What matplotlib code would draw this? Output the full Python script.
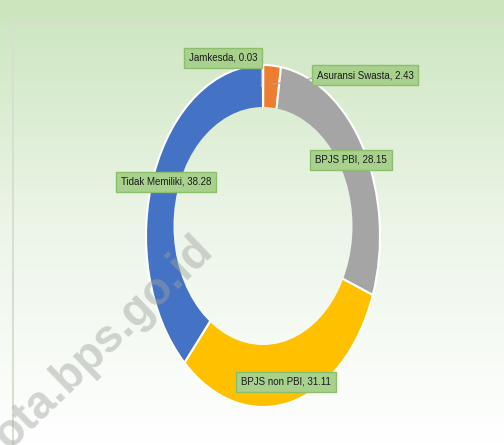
import numpy as np
import matplotlib
matplotlib.use('Agg')
import matplotlib.pyplot as plt
from matplotlib.patches import Ellipse, Rectangle

# data (clockwise from 12 o'clock)
kategori = ['Jamkesda', 'Asuransi Swasta', 'BPJS PBI', 'BPJS non PBI', 'Tidak Memiliki']
persen = [0.03, 2.43, 28.15, 31.11, 38.28]
warna = ['#5B9BD5', '#ED7D31', '#A5A5A5', '#FFC000', '#4472C4']

W, H = 504, 445
# label box centres in pixels (layout only)
label_pos = [(223, 58), (365, 75), (351, 160), (286, 382), (166, 182)]
# leader lines, pixels
leaders = [[(257, 58), (261, 58), (261, 86)],
           [(319, 76), (306, 80), (272, 84)]]

# donut geometry in pixels
cx, cy, rx, ry = 263, 236, 117, 171
hole_top, hole_bot, hole_rx = 107, 345, 89.5

fig = plt.figure(figsize=(W / 100, H / 100), dpi=100)

# background gradient
yy = np.linspace(0, 1, H)
stops_y = [0.0, 0.5, 1.0]
stops_c = np.array([[203, 229, 189], [236, 245, 232], [255, 255, 255]]) / 255
grad = np.stack([np.interp(yy, stops_y, stops_c[:, k]) for k in range(3)], axis=1)
grad = np.repeat(grad[:, None, :], W, axis=1)

bg = fig.add_axes([0, 0, 1, 1], zorder=0)
bg.imshow(grad, extent=(0, W, H, 0), aspect='auto')
bg.set_xlim(0, W)
bg.set_ylim(H, 0)
bg.axis('off')
bg.add_patch(Rectangle((13, 22), 600, 600, fill=False, edgecolor='#D6DFD0', linewidth=1.5))

# pie
ax = fig.add_axes([(cx - rx) / W, (H - cy - ry) / H, 2 * rx / W, 2 * ry / H], zorder=1)
ax.pie(persen, colors=warna, startangle=90, counterclock=False, radius=1,
       wedgeprops=dict(edgecolor='white', linewidth=1.5))
ax.set_aspect('auto')
ax.axis('off')

# hole, filled with the same gradient
hy0 = (cy - hole_top) / ry
hy1 = (cy - hole_bot) / ry
hole = Ellipse((0, (hy0 + hy1) / 2), 2 * hole_rx / rx, hy0 - hy1, transform=ax.transData,
               facecolor='none', edgecolor='none')
ax.add_patch(hole)
im = ax.imshow(grad, extent=((0 - cx) / rx, (W - cx) / rx, (cy - H) / ry, cy / ry),
               aspect='auto', zorder=3)
im.set_clip_path(hole)
ax.set_xlim(-1, 1)
ax.set_ylim(-1, 1)

# labels
ov = fig.add_axes([0, 0, 1, 1], zorder=2)
ov.set_xlim(0, W)
ov.set_ylim(H, 0)
ov.axis('off')

# watermark
ov.text(104, 343, 'ota.bps.go.id', rotation=44, fontsize=33, fontweight='bold',
        family=['Liberation Sans', 'DejaVu Sans'], color='#9EA39C', alpha=0.45,
        ha='center', va='center')

for pts in leaders:
    xs, ys = zip(*pts)
    ov.plot(xs, ys, color='#A6A6A6', linewidth=0.9)
for (px, py), nama, v in zip(label_pos, kategori, persen):
    ov.text(px, py, '{}, {:.2f}'.format(nama, v), ha='center', va='center',
            fontsize=7, color='#1A1A1A', family=['Liberation Sans', 'DejaVu Sans'],
            bbox=dict(boxstyle='square,pad=0.5', facecolor='#A9D18E', edgecolor='#8DBE6C', linewidth=1))

fig.savefig('out.png', dpi=100)
